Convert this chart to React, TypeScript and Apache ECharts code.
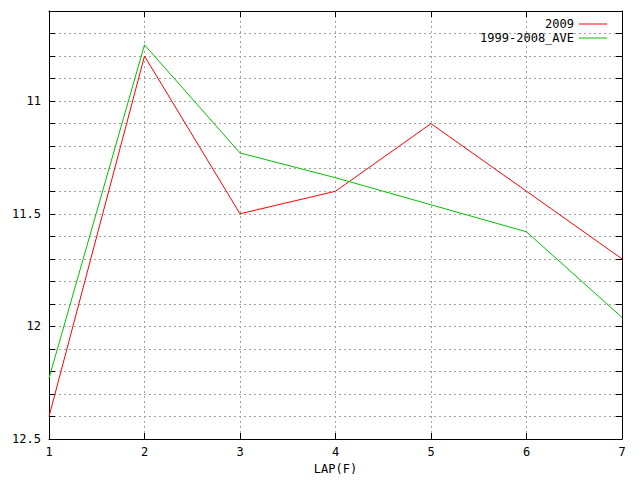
import React, { useEffect, useRef } from "react";
import * as echarts from "echarts";

const laps = [1, 2, 3, 4, 5, 6, 7];
const values2009 = [12.4, 10.8, 11.5, 11.4, 11.1, 11.4, 11.7];
const valuesAve = [12.23, 10.75, 11.23, 11.34, 11.46, 11.58, 11.96];
const seriesNames = ["2009", "1999-2008_AVE"];
const xAxisName = "LAP(F)";

const FONT = "DejaVu Sans Mono";

export default function App() {
  const ref = useRef<HTMLDivElement>(null);
  useEffect(() => {
    if (!ref.current) return;
    const chart = echarts.init(ref.current, undefined, { renderer: "svg" });
    const gridLine = { show: true, lineStyle: { color: "#a0a0a0", type: [2, 3], width: 1 } };
    const axisLine = { show: true, onZero: false, lineStyle: { color: "#000", width: 1 } };
    const tick = { show: true, inside: true, length: 6, lineStyle: { color: "#000" } };
    const yFmt = (v: number) => {
      const d = v * 2;
      if (Math.abs(d - Math.round(d)) < 1e-6) return String(Math.round(d) / 2);
      return "";
    };
    chart.setOption({
      animation: false,
      backgroundColor: "#fff",
      textStyle: { fontFamily: FONT },
      grid: { left: 49, right: 18, top: 11, bottom: 37, containLabel: false },
      legend: {
        data: seriesNames,
        orient: "vertical",
        right: 28,
        top: 12,
        align: "right",
        itemWidth: 28,
        itemHeight: 1,
        itemGap: 0,
        icon: "rect",
        textStyle: { fontFamily: FONT, fontSize: 12, color: "#000", lineHeight: 14 },
      },
      xAxis: [
        {
          type: "value",
          min: 1,
          max: 7,
          interval: 1,
          name: xAxisName,
          nameLocation: "middle",
          nameGap: 22,
          nameTextStyle: { fontFamily: FONT, fontSize: 12, color: "#000" },
          axisLine,
          axisTick: tick,
          axisLabel: { fontFamily: FONT, fontSize: 12, color: "#000", margin: 7 },
          splitLine: gridLine,
        },
        {
          type: "value",
          position: "top",
          min: 1,
          max: 7,
          interval: 1,
          axisLine,
          axisTick: tick,
          axisLabel: { show: false },
          splitLine: { show: false },
        },
      ],
      yAxis: [
        {
          type: "value",
          inverse: true,
          min: 10.6,
          max: 12.5,
          interval: 0.1,
          axisLine,
          axisTick: tick,
          axisLabel: { fontFamily: FONT, fontSize: 12, color: "#000", margin: 8, formatter: yFmt },
          splitLine: gridLine,
        },
        {
          type: "value",
          position: "right",
          inverse: true,
          min: 10.6,
          max: 12.5,
          interval: 0.1,
          axisLine,
          axisTick: tick,
          axisLabel: { show: false },
          splitLine: { show: false },
        },
      ],
      series: [
        {
          name: seriesNames[0],
          type: "line",
          data: laps.map((x, i) => [x, values2009[i]]),
          showSymbol: false,
          symbol: "none",
          lineStyle: { color: "#ff0000", width: 1 },
          itemStyle: { color: "#ff0000" },
        },
        {
          name: seriesNames[1],
          type: "line",
          data: laps.map((x, i) => [x, valuesAve[i]]),
          showSymbol: false,
          symbol: "none",
          lineStyle: { color: "#00c000", width: 1 },
          itemStyle: { color: "#00c000" },
        },
      ],
    });
    return () => chart.dispose();
  }, []);
  return <div ref={ref} style={{ width: 640, height: 480, position: "fixed", left: 0, top: 0 }} />;
}
